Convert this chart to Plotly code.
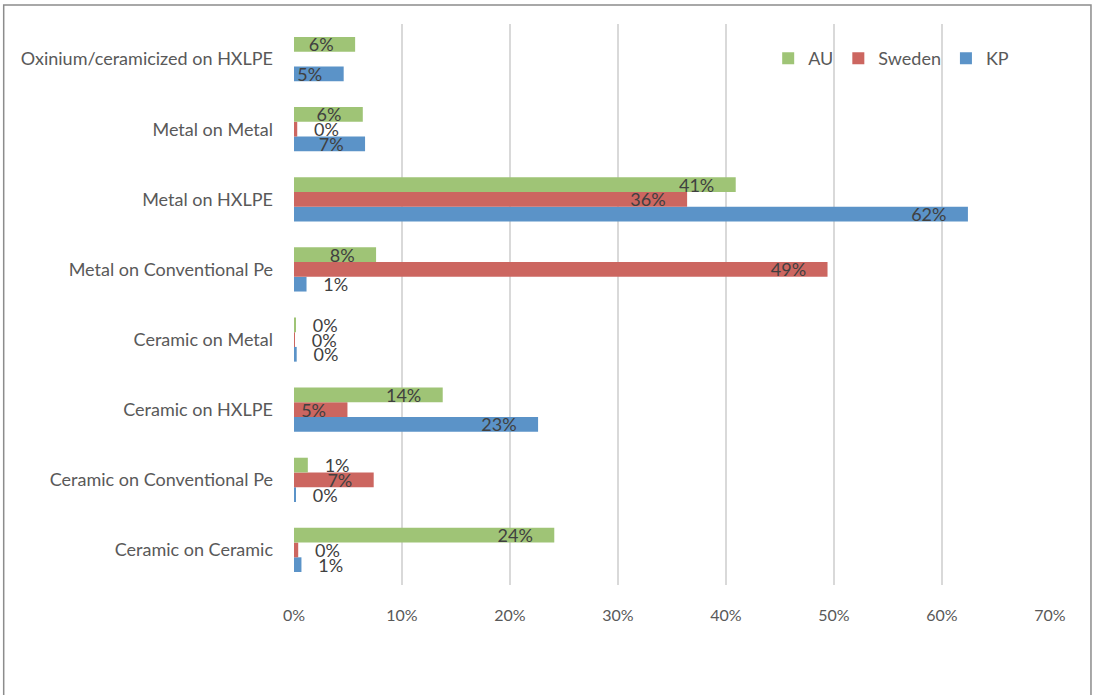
import plotly.graph_objects as go

categories = [
    "Ceramic on Ceramic",
    "Ceramic on Conventional Pe",
    "Ceramic on HXLPE",
    "Ceramic on Metal",
    "Metal on Conventional Pe",
    "Metal on HXLPE",
    "Metal on Metal",
    "Oxinium/ceramicized on HXLPE",
]
kp = [0.69, 0.1, 22.6, 0.25, 1.16, 62.4, 6.58, 4.6]
sweden = [0.39, 7.38, 4.95, 0.02, 49.4, 36.4, 0.3, None]
au = [24.1, 1.28, 13.77, 0.15, 7.6, 40.9, 6.37, 5.66]
x_ticks = [0, 10, 20, 30, 40, 50, 60, 70]

series = [("KP", kp, "#5B93C8"), ("Sweden", sweden, "#CC6660"), ("AU", au, "#9FC476")]

FONT = "Lato"
NB = "\u00a0"
fig = go.Figure()
for name, vals, color in series:
    inside = [v is not None and v >= 3 for v in vals]
    templates = [("%{x:.0f}%" + NB * 4) if ins else (NB * 3 + "%{x:.0f}%") for ins in inside]
    positions = ["inside" if ins else "outside" for ins in inside]
    fig.add_trace(go.Bar(
        y=categories, x=vals, name=name, orientation="h",
        marker=dict(color=color, line=dict(width=0)),
        texttemplate=templates, textposition=positions,
        insidetextanchor="end", textangle=0,
        insidetextfont=dict(color="#404040", size=18, family=FONT),
        outsidetextfont=dict(color="#404040", size=18, family=FONT),
        cliponaxis=False,
        hoverinfo="x+y+name",
    ))

L, R, T, B = 293.5, 45, 24, 110
W, H = 1095, 695
pw, ph = W - L - R, H - T - B

fig.update_layout(
    width=W, height=H,
    barmode="group", bargap=0.37, bargroupgap=0,
    margin=dict(l=L, r=R, t=T, b=B, pad=0),
    paper_bgcolor="white", plot_bgcolor="white",
    font=dict(family=FONT, color="#595959", size=17),
    uniformtext=dict(minsize=18, mode="show"),
    legend=dict(
        orientation="h", traceorder="reversed",
        x=(768 - L) / pw, xanchor="left",
        y=(H - B - 40) / ph, yanchor="top",
        font=dict(size=18, color="#595959", family=FONT),
        bgcolor="rgba(0,0,0,0)", itemwidth=30,
    ),
    xaxis=dict(
        range=[0, 70], tickvals=x_ticks, ticktext=[f"{v}%" for v in x_ticks],
        showgrid=True, gridcolor="#D9D9D9", gridwidth=1.5,
        zeroline=False, showline=False, ticks="",
        tickfont=dict(size=16, color="#595959", family=FONT),
        ticklabelstandoff=19, fixedrange=True,
    ),
    yaxis=dict(
        categoryorder="array", categoryarray=categories,
        showgrid=False, zeroline=False, showline=False, ticks="",
        tickfont=dict(size=18, color="#595959", family=FONT),
        ticklabelstandoff=20, fixedrange=True,
    ),
    shapes=[dict(
        type="rect", xref="paper", yref="paper",
        x0=(3 - L) / pw, x1=(1091 - L) / pw,
        y0=(H - B - 710) / ph, y1=(H - B - 5) / ph,
        line=dict(color="#8C8C8C", width=1.5), fillcolor="rgba(0,0,0,0)", layer="below",
    )],
)

fig.write_html("out.html")
